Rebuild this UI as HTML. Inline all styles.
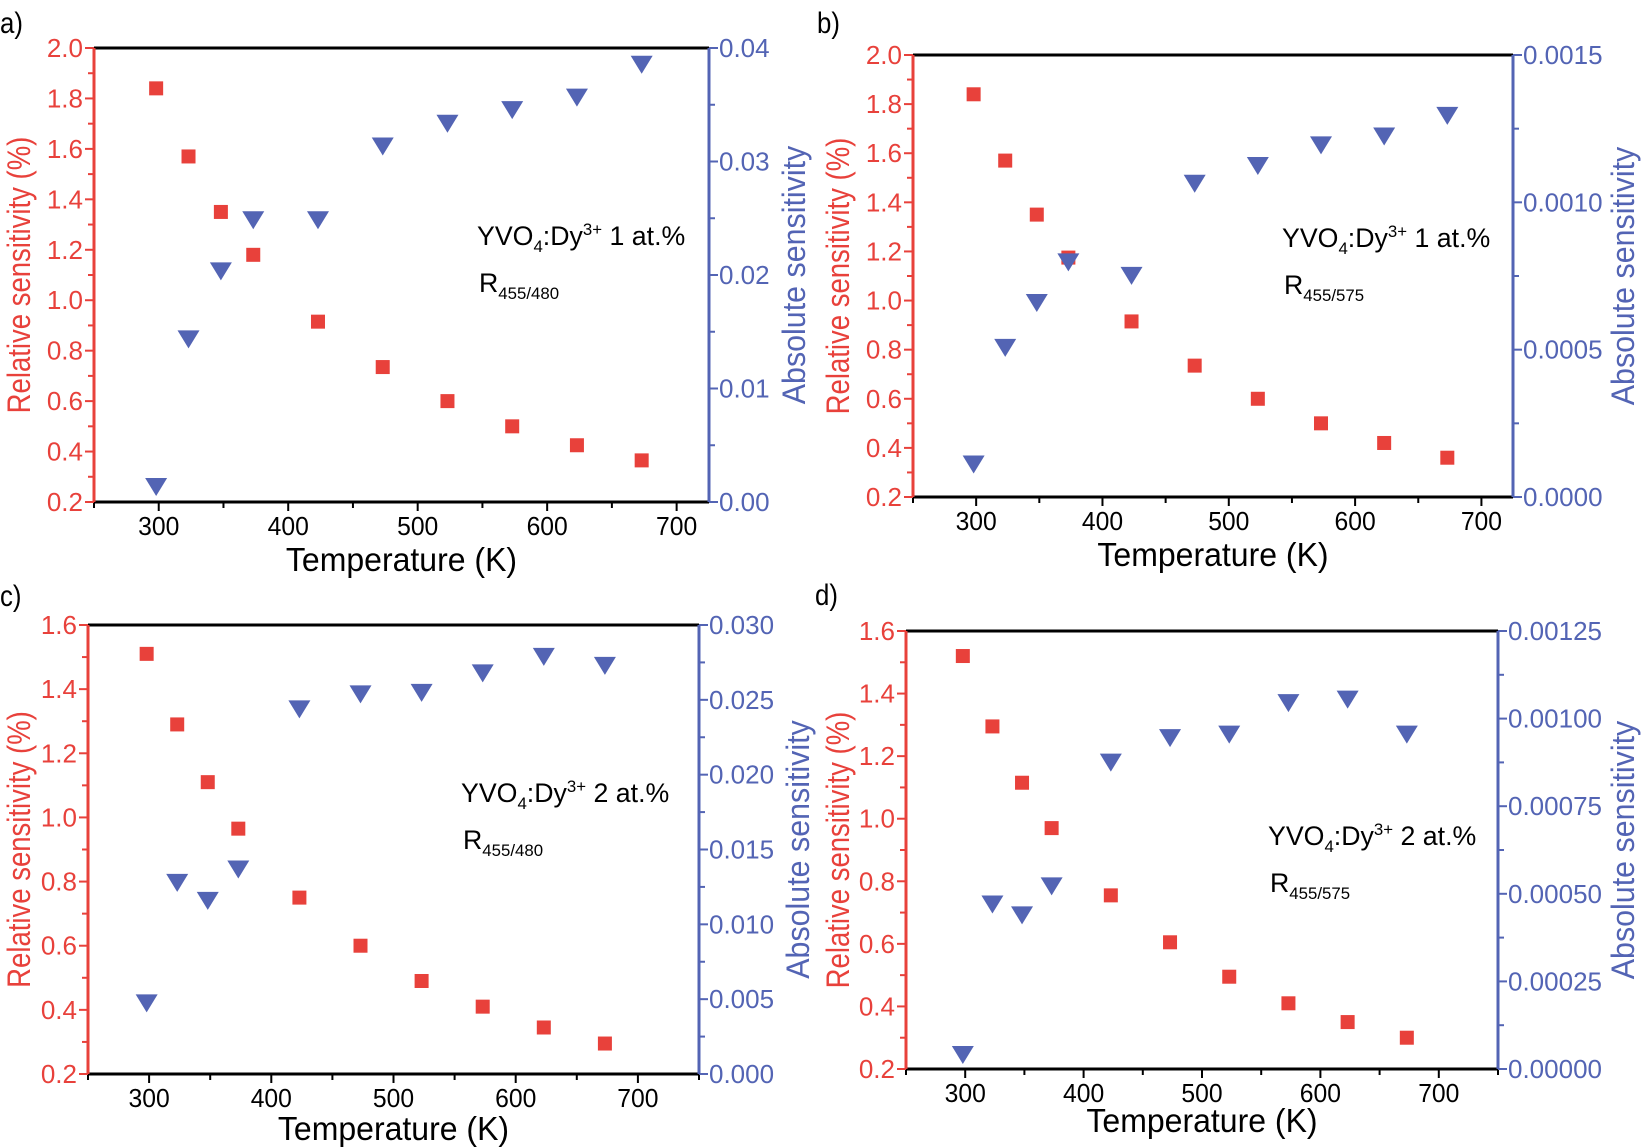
<!DOCTYPE html>
<html><head><meta charset="utf-8"><style>
html,body{margin:0;padding:0;background:#fff;}
svg{display:block;font-family:"Liberation Sans",sans-serif;}
</style></head><body>
<svg id="s" width="1643" height="1147" viewBox="0 0 1643 1147" xmlns="http://www.w3.org/2000/svg"></svg>
<script>
const R='#e8413b',B='#5364b4';
const T=[298,323,348,373,423,473,523,573,623,673];
const panels=[
 {lab:'a)',lx:0,ly:33,L:94,Rr:709,Tp:48,Bt:502,xmax:725,ymin:0.2,ymax:2.0,ystep:0.2,amax:0.04,astep:0.01,adec:2,
  rel:[1.84,1.57,1.35,1.18,0.915,0.735,0.60,0.50,0.425,0.365],
  abs:[0.0015,0.0145,0.0205,0.025,0.025,0.0315,0.0335,0.0347,0.0358,0.0387],
  ann:[477,245],num:'1',sub:'455/480',axR:30,axA:805,tY:571},
 {lab:'b)',lx:817,ly:33,L:913,Rr:1513,Tp:55,Bt:497,xmax:725,ymin:0.2,ymax:2.0,ystep:0.2,amax:0.0015,astep:0.0005,adec:4,
  rel:[1.84,1.57,1.35,1.175,0.915,0.735,0.60,0.50,0.42,0.36],
  abs:[0.000117,0.000513,0.000665,0.000803,0.000757,0.00107,0.00113,0.0012,0.00123,0.0013],
  ann:[1282,247],num:'1',sub:'455/575',axR:849,axA:1634,tY:566},
 {lab:'c)',lx:0,ly:606,L:88,Rr:699,Tp:625,Bt:1074,xmax:750,ymin:0.2,ymax:1.6,ystep:0.2,amax:0.03,astep:0.005,adec:3,
  rel:[1.51,1.29,1.11,0.965,0.75,0.60,0.49,0.41,0.345,0.295],
  abs:[0.00485,0.0129,0.0117,0.0138,0.0245,0.0255,0.0256,0.0269,0.028,0.0274],
  ann:[461,802],num:'2',sub:'455/480',axR:30,axA:809,tY:1140},
 {lab:'d)',lx:815,ly:605,L:906,Rr:1498,Tp:631,Bt:1069,xmax:750,ymin:0.2,ymax:1.6,ystep:0.2,amax:0.00125,astep:0.00025,adec:5,
  rel:[1.52,1.295,1.115,0.97,0.755,0.605,0.495,0.41,0.35,0.30],
  abs:[0.0000458,0.000475,0.000444,0.000527,0.00088,0.00095,0.00096,0.00105,0.00106,0.00096],
  ann:[1268,845],num:'2',sub:'455/575',axR:849,axA:1634,tY:1132}
];
function tx(x,y,s,size,fill,anchor,rot,sc){
 return `<text transform="translate(${x},${y})${rot?' rotate(-90)':''} scale(${sc||0.86},1)" font-size="${size}" fill="${fill||'#000'}" text-anchor="${anchor||'start'}">${s}</text>`;
}
let h='';
for(const p of panels){
 const X=t=>p.L+(t-250)/(p.xmax-250)*(p.Rr-p.L);
 const Y=v=>p.Bt-(v-p.ymin)/(p.ymax-p.ymin)*(p.Bt-p.Tp);
 const A=v=>p.Bt-v/p.amax*(p.Bt-p.Tp);
 h+=tx(p.lx,p.ly,p.lab,30);
 for(let t=250;t<=p.xmax;t+=50){const x=X(t),maj=t%100==0;
  h+=`<line x1="${x}" x2="${x}" y1="${p.Bt}" y2="${p.Bt+(maj?9:6)}" stroke="#000" stroke-width="2"/>`;
  if(maj)h+=tx(x,p.Bt+33,t,26,'#000','middle',0,0.95);}
 const n=Math.round((p.ymax-p.ymin)/p.ystep);
 for(let i=0;i<=2*n;i++){const v=p.ymin+i*p.ystep/2,y=Y(v),maj=i%2==0;
  h+=`<line x1="${p.L}" x2="${p.L-(maj?9:6)}" y1="${y}" y2="${y}" stroke="${R}" stroke-width="2"/>`;
  if(maj)h+=tx(p.L-11,y+9,v.toFixed(1),26,R,'end',0,1);}
 const m=Math.round(p.amax/p.astep);
 for(let i=0;i<=2*m;i++){const v=i*p.astep/2,y=A(v),maj=i%2==0;
  h+=`<line x1="${p.Rr}" x2="${p.Rr+(maj?9:6)}" y1="${y}" y2="${y}" stroke="${B}" stroke-width="2"/>`;
  if(maj)h+=tx(p.Rr+10,y+9,v.toFixed(p.adec),26,B,'start',0,1);}
 h+=`<line x1="${p.L}" x2="${p.Rr}" y1="${p.Tp}" y2="${p.Tp}" stroke="#000" stroke-width="3"/>`;
 h+=`<line x1="${p.L}" x2="${p.Rr}" y1="${p.Bt}" y2="${p.Bt}" stroke="#000" stroke-width="3"/>`;
 h+=`<line x1="${p.L}" x2="${p.L}" y1="${p.Tp}" y2="${p.Bt}" stroke="${R}" stroke-width="3"/>`;
 h+=`<line x1="${p.Rr}" x2="${p.Rr}" y1="${p.Tp}" y2="${p.Bt}" stroke="${B}" stroke-width="3"/>`;
 T.forEach((t,i)=>{const x=X(t);
  const y=Y(p.rel[i]);h+=`<rect x="${x-7}" y="${y-7}" width="14" height="14" fill="${R}"/>`;
  const ya=A(p.abs[i]);h+=`<polygon points="${x-11},${ya-7} ${x+11},${ya-7} ${x},${ya+11}" fill="${B}"/>`;});
 const [ax,ay]=p.ann;
 h+=`<text transform="translate(${ax},${ay}) scale(0.99,1)" font-size="27">YVO<tspan font-size="17" dy="7">4</tspan><tspan dy="-7">:Dy</tspan><tspan font-size="17" dy="-10">3+</tspan><tspan dy="10"> ${p.num} at.%</tspan></text>`;
 h+=`<text transform="translate(${ax+2},${ay+47}) scale(0.99,1)" font-size="27">R<tspan font-size="17" dy="7">${p.sub}</tspan></text>`;
 const cy=(p.Tp+p.Bt)/2,cx=(p.L+p.Rr)/2;
 h+=tx(p.axR,cy,'Relative sensitivity (%)',32,R,'middle',1,0.86);
 h+=tx(p.axA,cy,'Absolute sensitivity',32,B,'middle',1,0.95);
 h+=tx(cx,p.tY,'Temperature (K)',33,'#000','middle',0,0.97);
}
document.getElementById('s').innerHTML=h;
</script>
</body></html>
